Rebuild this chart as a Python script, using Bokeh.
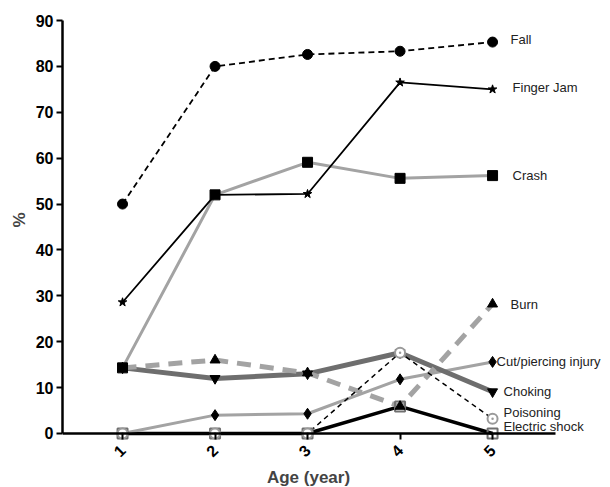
import math
from bokeh.plotting import figure
from bokeh.models import Range1d, FixedTicker, Label, Title
from bokeh.embed import file_html
from bokeh.resources import INLINE

# ---- data ----
ages = [1, 2, 3, 4, 5]
age_ticks = [1, 2, 3, 4, 5]
pct_ticks = [0, 10, 20, 30, 40, 50, 60, 70, 80, 90]

fall = [50.0, 80.0, 82.6, 83.3, 85.3]
finger_jam = [28.6, 52.0, 52.2, 76.5, 75.0]
crash = [14.3, 52.0, 59.1, 55.6, 56.2]
burn = [14.3, 16.0, 13.2, 5.9, 28.2]
cut_piercing = [0.0, 4.0, 4.3, 11.8, 15.6]
choking = [14.3, 12.0, 13.0, 17.6, 9.1]
poisoning = [0.0, 0.0, 0.0, 17.6, 3.2]
electric_shock = [0.0, 0.0, 0.0, 5.9, 0.0]

names = ["Fall", "Finger Jam", "Crash", "Burn", "Cut/piercing injury",
         "Choking", "Poisoning", "Electric shock"]
values = [fall, finger_jam, crash, burn, cut_piercing, choking, poisoning, electric_shock]

# ---- styles ----
LG = "#a3a3a3"
DG = "#6e6e6e"
styles = {
    "Electric shock": dict(color="black", width=3.5, dash="solid", marker="square", size=10,
                           mline="#707070", mfill=None, mlw=2, lx=11, ly=-7),
    "Cut/piercing injury": dict(color=LG, width=3, dash="solid", marker="diamond", size=11,
                                mline="black", mfill="black", mlw=1, lx=4, ly=0),
    "Choking": dict(color=DG, width=5, dash="solid", marker="inverted_triangle", size=10,
                    mline="black", mfill="black", mlw=1, lx=11, ly=0),
    "Burn": dict(color=LG, width=5, dash="14 9", marker="triangle", size=10,
                 mline="black", mfill="black", mlw=1, lx=18, ly=0),
    "Poisoning": dict(color="black", width=1.5, dash="5 4", marker="circle_dot", size=10,
                      mline="#9a9a9a", mfill="white", mlw=2, lx=11, ly=-6),
    "Crash": dict(color=LG, width=3, dash="solid", marker="square", size=10,
                  mline="black", mfill="black", mlw=1, lx=20, ly=0),
    "Finger Jam": dict(color="black", width=1.8, dash="solid", marker="star", size=9,
                       mline="black", mfill="black", mlw=1, lx=20, ly=-2),
    "Fall": dict(color="black", width=1.8, dash="6 4", marker="circle", size=10,
                 mline="black", mfill="black", mlw=1, lx=18, ly=-3),
}
draw_order = ["Electric shock", "Cut/piercing injury", "Choking", "Burn", "Poisoning",
              "Crash", "Finger Jam", "Fall"]

FONT = "Liberation Sans"

p = figure(width=610, height=487,
           x_range=Range1d(0.351, 6.275), y_range=Range1d(-11.77, 90),
           output_backend="svg", toolbar_location=None,
           min_border_left=62, min_border_right=0, min_border_top=20, min_border_bottom=0)
p.grid.visible = False
p.outline_line_color = None
p.background_fill_color = "white"
p.border_fill_color = "white"

xa = p.xaxis[0]
xa.ticker = FixedTicker(ticks=age_ticks)
xa.fixed_location = 0
xa.bounds = (0.351, 5.681)
ya = p.yaxis[0]
ya.ticker = FixedTicker(ticks=pct_ticks)
ya.bounds = (0, 90)
for ax in (xa, ya):
    ax.axis_line_width = 2.5
    ax.axis_line_color = "black"
    ax.major_tick_line_width = 2
    ax.major_tick_out = 6
    ax.major_tick_in = 0
    ax.minor_tick_line_color = None
    ax.major_label_text_font = FONT
    ax.major_label_text_font_style = "bold"
    ax.major_label_text_font_size = "16px"
    ax.major_label_text_color = "black"
    ax.major_label_standoff = 3
xa.major_label_orientation = math.pi / 4
xa.major_label_standoff = 8

p.add_layout(Title(text="%", align="right", offset=192, standoff=8,
                   text_font=FONT, text_font_style="bold", text_font_size="17px"), "left")

name_to_vals = dict(zip(names, values))
for nm in draw_order:
    s = styles[nm]
    p.line(ages, name_to_vals[nm], line_color=s["color"], line_width=s["width"],
           line_dash=s["dash"])
for nm in draw_order:
    s = styles[nm]
    kw = dict(marker=s["marker"], size=s["size"], line_color=s["mline"],
              line_width=s["mlw"])
    if s["mfill"] is None:
        kw["fill_alpha"] = 0
    else:
        kw["fill_color"] = s["mfill"]
    p.scatter(ages, name_to_vals[nm], **kw)

for nm in names:
    s = styles[nm]
    p.add_layout(Label(x=ages[-1], y=name_to_vals[nm][-1], text=nm,
                       x_offset=s["lx"], y_offset=-s["ly"],
                       text_font=FONT, text_font_size="13px", text_color="#222222",
                       text_align="left", text_baseline="middle"))

p.add_layout(Label(x=246, y=10, x_units="screen", y_units="screen", text="Age (year)",
                   text_font=FONT, text_font_style="bold", text_font_size="17px",
                   text_align="center", text_baseline="alphabetic"))

open("out.html", "w").write(file_html(p, INLINE))
